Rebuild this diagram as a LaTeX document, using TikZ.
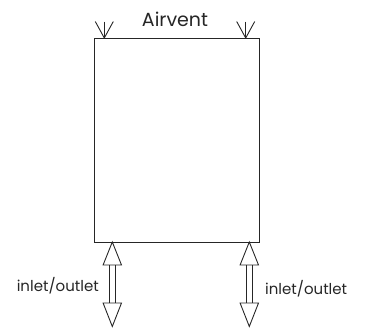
\documentclass[tikz,border=0pt]{standalone}
\usepackage{fontspec}
\setmainfont{Poppins}
\usetikzlibrary{calc}
\begin{document}
\begin{tikzpicture}[x=1pt,y=-1pt,
  ln/.style={line width=0.9pt,draw=black!85},
  tankbox/.style={ln,rectangle,minimum width=164.5pt,minimum height=204pt,inner sep=0pt,anchor=north west},
  lbl/.style={font=\fontsize{15}{15}\selectfont,text=black!85,inner sep=0pt},
  ventlbl/.style={font=\fontsize{19}{19}\selectfont,text=black!85,inner sep=0pt}]
\useasboundingbox (0,0) rectangle (366,327);
\node[tankbox] (tank) at (94,38) {};
\node[ventlbl,anchor=base] (vent) at (175,26.5) {Airvent};
% airvent arrows
\coordinate (v1) at (104.3,21.5);
\coordinate (v1t) at (104.3,38);
\coordinate (v2) at (245.7,21.5);
\coordinate (v2t) at (245.7,38);
\foreach \a/\t in {v1/v1t,v2/v2t}{
  \draw[ln] (\a) -- (\t);
  \draw[ln] ($(\a)+(-9,0)$) -- (\t) -- ($(\a)+(9,0)$);
}
% inlet/outlet arrows
\foreach \x/\n in {112.3/a,249.3/b}{
  \coordinate (\n top) at (\x,242);
  \coordinate (\n bot) at (\x,326.5);
  \draw[ln,line join=miter] (\n top) -- ++(-9.2,23) -- ++(18.4,0) -- cycle;
  \draw[ln,line join=miter] (\n bot) -- ++(-9.2,-23.5) -- ++(18.4,0) -- cycle;
  \draw[ln] (\x-3.3,265) -- (\x-3.3,303);
  \draw[ln] (\x+3.3,265) -- (\x+3.3,303);
}
\node[lbl,anchor=base east] (l1) at (99,291.7) {inlet/outlet};
\node[lbl,anchor=base west] (l2) at (265,294) {inlet/outlet};
\end{tikzpicture}
\end{document}
